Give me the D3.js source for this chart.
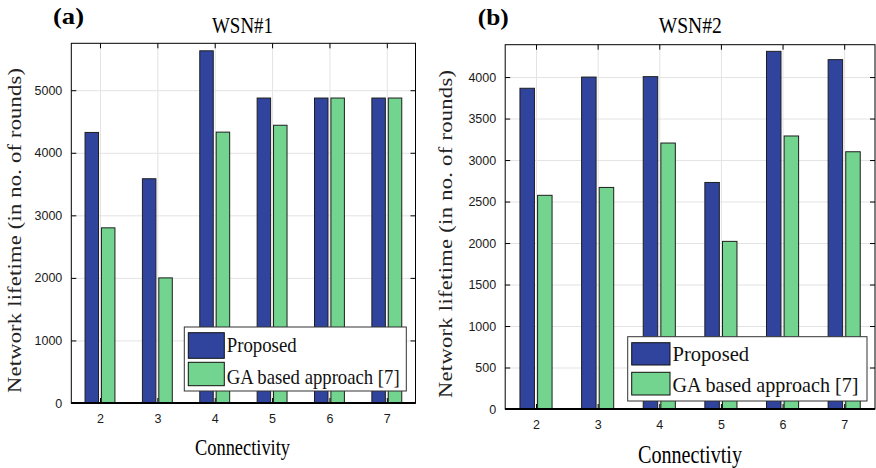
<!DOCTYPE html>
<html>
<head>
<meta charset="utf-8">
<script src="https://cdn.jsdelivr.net/npm/d3@7"></script>
<style>
  html, body { margin: 0; padding: 0; background: #fff; }
  svg { display: block; }
</style>
</head>
<body>
<svg id="chart" width="876" height="468"></svg>
<script>
// ---------------- DATA ----------------
const categories = [2, 3, 4, 5, 6, 7];
const seriesNames = ["Proposed", "GA based approach [7]"];
const seriesColors = ["#30449e", "#73d48f"];

const wsn1Proposed = [4325, 3585, 5630, 4875, 4875, 4875];
const wsn1GA       = [2800, 2000, 4330, 4440, 4875, 4875];
const wsn1YTicks   = [0, 1000, 2000, 3000, 4000, 5000];

const wsn2Proposed = [3865, 4000, 4005, 2730, 4310, 4210];
const wsn2GA       = [2575, 2670, 3205, 2020, 3290, 3100];
const wsn2YTicks   = [0, 500, 1000, 1500, 2000, 2500, 3000, 3500, 4000];

const yAxisTitle = "Network lifetime (in no. of rounds)";

// ---------------- LAYOUT ----------------
const svg = d3.select("#chart");
const serif = "'Liberation Serif', 'Times New Roman', serif";
const sans = "'Liberation Sans', Arial, sans-serif";
const fmt = d3.format("d");

const panels = [
  {
    tag: "(a)", title: "WSN#1", xTitle: "Connectivity",
    proposed: wsn1Proposed, ga: wsn1GA, yTicks: wsn1YTicks, yMax: 5750,
    x0: 71.3, x1: 415.5, y0: 43.3, y1: 403,
    tagPos: [53, 24, 31], titlePos: [242.5, 33, 61, 24], xTitlePos: [242.5, 455, 95, 24],
    yTitlePos: [21, 230.5, 325, 22.5],
    xTickPad: 11,
    legend: { x0: 184.3, x1: 406.3, y0: 327, y1: 391, px0: 188.3, px1: 224.3,
              rows: [[332.7, 358.3, 352, 70], [362.3, 385.7, 383.5, 173]], tx: 226.7, fs: 21.5 }
  },
  {
    tag: "(b)", title: "WSN#2", xTitle: "Connectivtiy",
    proposed: wsn2Proposed, ga: wsn2GA, yTicks: wsn2YTicks, yMax: 4390,
    x0: 505.2, x1: 875, y0: 44.7, y1: 409,
    tagPos: [477.7, 25, 31], titlePos: [690.3, 33, 63, 24], xTitlePos: [690, 462.5, 104, 25],
    yTitlePos: [452, 234, 328, 22.5],
    xTickPad: 11.5,
    legend: { x0: 627.7, x1: 867, y0: 336.7, y1: 401, px0: 631.7, px1: 670,
              rows: [[342.7, 365, 361, 76.6], [372.3, 395, 392, 186]], tx: 672.5, fs: 21 }
  }
];

panels.forEach(p => {
  const g = svg.append("g");
  const x = d3.scaleLinear().domain([1.5, 7.5]).range([p.x0, p.x1]);
  const y = d3.scaleLinear().domain([0, p.yMax]).range([p.y1, p.y0]);
  const W = p.x1 - p.x0, H = p.y1 - p.y0;

  // grid
  const gridY = g.append("g").attr("transform", `translate(${p.x0},0)`)
    .call(d3.axisLeft(y).tickValues(p.yTicks).tickSize(-W).tickFormat(""));
  const gridX = g.append("g").attr("transform", `translate(0,${p.y1})`)
    .call(d3.axisBottom(x).tickValues(categories).tickSize(-H).tickFormat(""));
  [gridY, gridX].forEach(a => {
    a.select(".domain").remove();
    a.selectAll("line").attr("stroke", "#e3e3e3").attr("stroke-width", 1);
  });

  // bars
  const offsets = [-0.143, 0.143];
  const bw = 0.235;
  [p.proposed, p.ga].forEach((vals, si) => {
    g.append("g").selectAll("rect").data(vals).join("rect")
      .attr("x", (d, i) => x(categories[i] + offsets[si] - bw / 2))
      .attr("width", (d, i) => x(categories[i] + offsets[si] + bw / 2) - x(categories[i] + offsets[si] - bw / 2))
      .attr("y", d => y(d))
      .attr("height", d => p.y1 - y(d))
      .attr("fill", seriesColors[si])
      .attr("stroke", "#1e1e1e")
      .attr("stroke-width", 1);
  });

  // axes
  const styleAxis = a => {
    a.select(".domain").remove();
    a.selectAll("line").attr("stroke", "#000").attr("stroke-width", 1);
    a.selectAll("text").attr("font-family", sans).attr("font-size", "12.5px").attr("fill", "#1a1a1a");
  };
  styleAxis(g.append("g").attr("transform", `translate(${p.x0},0)`)
    .call(d3.axisLeft(y).tickValues(p.yTicks).tickSize(-5).tickPadding(9).tickFormat(fmt)));
  styleAxis(g.append("g").attr("transform", `translate(${p.x1},0)`)
    .call(d3.axisRight(y).tickValues(p.yTicks).tickSize(-5).tickFormat("")));
  styleAxis(g.append("g").attr("transform", `translate(0,${p.y0})`)
    .call(d3.axisTop(x).tickValues(categories).tickSize(-5).tickFormat("")));
  styleAxis(g.append("g").attr("transform", `translate(0,${p.y1})`)
    .call(d3.axisBottom(x).tickValues(categories).tickSize(-5).tickPadding(p.xTickPad).tickFormat(fmt)));

  // frame
  g.append("rect").attr("x", p.x0).attr("y", p.y0).attr("width", W).attr("height", H)
    .attr("fill", "none").attr("stroke", "#000").attr("stroke-width", 1);
  g.append("line").attr("x1", p.x0).attr("x2", p.x1).attr("y1", p.y1).attr("y2", p.y1)
    .attr("stroke", "#000").attr("stroke-width", 2);

  // texts
  g.append("text").attr("x", p.tagPos[0]).attr("y", p.tagPos[1]).text(p.tag)
    .attr("font-family", serif).attr("font-weight", "bold").attr("font-size", "24px")
    .attr("textLength", p.tagPos[2]).attr("lengthAdjust", "spacingAndGlyphs");
  g.append("text").attr("x", p.titlePos[0] - p.titlePos[2] / 2).attr("y", p.titlePos[1]).text(p.title)
    .attr("font-family", serif).attr("font-size", p.titlePos[3] + "px")
    .attr("textLength", p.titlePos[2]).attr("lengthAdjust", "spacingAndGlyphs");
  g.append("text").attr("x", p.xTitlePos[0] - p.xTitlePos[2] / 2).attr("y", p.xTitlePos[1]).text(p.xTitle)
    .attr("font-family", serif).attr("font-size", p.xTitlePos[3] + "px")
    .attr("textLength", p.xTitlePos[2]).attr("lengthAdjust", "spacingAndGlyphs");
  g.append("text")
    .attr("transform", `translate(${p.yTitlePos[0]},${p.yTitlePos[1]}) scale(0.85,1) rotate(-90)`)
    .attr("x", -p.yTitlePos[2] / 2).attr("y", 0)
    .text(yAxisTitle)
    .attr("font-family", serif).attr("font-size", p.yTitlePos[3] + "px").attr("fill", "#222")
    .attr("textLength", p.yTitlePos[2]).attr("lengthAdjust", "spacing");

  // legend
  const L = p.legend;
  const lg = g.append("g");
  lg.append("rect").attr("x", L.x0).attr("y", L.y0).attr("width", L.x1 - L.x0).attr("height", L.y1 - L.y0)
    .attr("fill", "#fff").attr("stroke", "#333").attr("stroke-width", 1);
  seriesNames.forEach((name, i) => {
    const r = L.rows[i];
    lg.append("rect").attr("x", L.px0).attr("y", r[0]).attr("width", L.px1 - L.px0).attr("height", r[1] - r[0])
      .attr("fill", seriesColors[i]).attr("stroke", "#111").attr("stroke-width", 1);
    lg.append("text").attr("x", L.tx).attr("y", r[2]).text(name)
      .attr("font-family", serif).attr("font-size", L.fs + "px").attr("fill", "#111")
      .attr("textLength", r[3]).attr("lengthAdjust", "spacingAndGlyphs");
  });
});
</script>
</body>
</html>
